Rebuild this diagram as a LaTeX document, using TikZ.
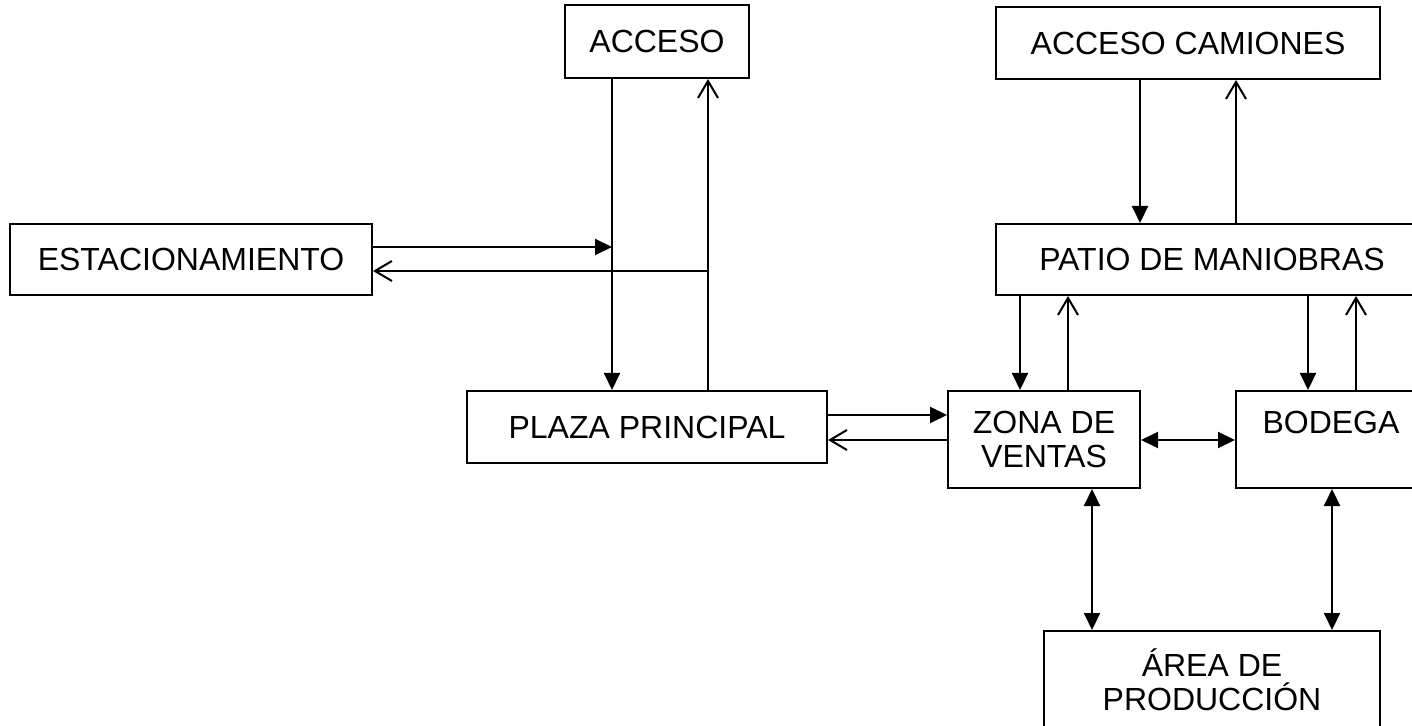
\documentclass[tikz,border=0pt]{standalone}
\usepackage{fontspec}
\setmainfont{Liberation Sans}
\usetikzlibrary{positioning, arrows.meta}

\begin{document}
\begin{tikzpicture}[
	x=0.5pt, y=-0.5pt,
	zone/.style={rectangle, draw, line width=1pt, inner sep=0pt, align=center, font=\fontsize{16}{17}\selectfont},
	fa/.style={line width=1pt, -{Triangle[length=8.5pt, width=8pt]}},
	fb/.style={line width=1pt, {Triangle[length=8.5pt, width=8pt]}-{Triangle[length=8.5pt, width=8pt]}},
	oa/.style={line width=1pt, -{Straight Barb[length=8.5pt, width=10pt]}}
]

\useasboundingbox (0,0) rectangle (1412,726);
\clip (0,0) rectangle (1412,726);

% bloques
\node[zone, minimum width=92pt, minimum height=36.5pt] (acceso) at (657,41.5) {ACCESO};
\node[zone, minimum width=192pt, minimum height=36pt] (camiones) at (1188,43) {ACCESO CAMIONES};
\node[zone, minimum width=181pt, minimum height=35.5pt] (estac) at (191,259.5) {ESTACIONAMIENTO};
\node[zone, minimum width=216pt, minimum height=35.5pt] (patio) at (1212,259.5) {PATIO DE MANIOBRAS};
\node[zone, minimum width=180pt, minimum height=36pt] (plaza) at (647,427) {PLAZA PRINCIPAL};
\node[zone, minimum width=96pt, minimum height=48.5pt] (zona) at (1044,439.5) {ZONA DE\\VENTAS};
\node[zone, minimum width=95pt, minimum height=48.5pt] (bodega) at (1331,439.5) {BODEGA\\\mbox{}};
\node[zone, minimum width=168pt, minimum height=49pt] (area) at (1212,680) {ÁREA DE\\PRODUCCIÓN};

% columnas y filas de las flechas
\coordinate (c1) at (612,0);
\coordinate (c2) at (708,0);
\coordinate (c3) at (1140,0);
\coordinate (c4) at (1236,0);
\coordinate (c5) at (1020,0);
\coordinate (c6) at (1068,0);
\coordinate (c7) at (1308,0);
\coordinate (c8) at (1356,0);
\coordinate (c9) at (1092,0);
\coordinate (c10) at (1332,0);
\coordinate (r1) at (0,247);
\coordinate (r2) at (0,271);
\coordinate (r3) at (0,415);
\coordinate (r4) at (0,440);

\foreach \i/\j/\c in {acceso/plaza/c1, camiones/patio/c3, patio/zona/c5, patio/bodega/c7}
	\draw[fa] (\i.south -| \c) -- (\j.north -| \c);

\foreach \i/\j/\c in {plaza/acceso/c2, patio/camiones/c4, zona/patio/c6, bodega/patio/c8}
	\draw[oa] (\i.north -| \c) -- (\j.south -| \c);

\foreach \i/\c in {zona/c9, bodega/c10}
	\draw[fb] (\i.south -| \c) -- (area.north -| \c);

\draw[fa] (estac.east |- r1) -- (c1 |- r1);
\draw[oa] (c2 |- r2) -- (estac.east |- r2);
\draw[fa] (plaza.east |- r3) -- (zona.west |- r3);
\draw[oa] (zona.west |- r4) -- (plaza.east |- r4);
\draw[fb] (zona.east |- r4) -- (bodega.west |- r4);

\end{tikzpicture}
\end{document}
